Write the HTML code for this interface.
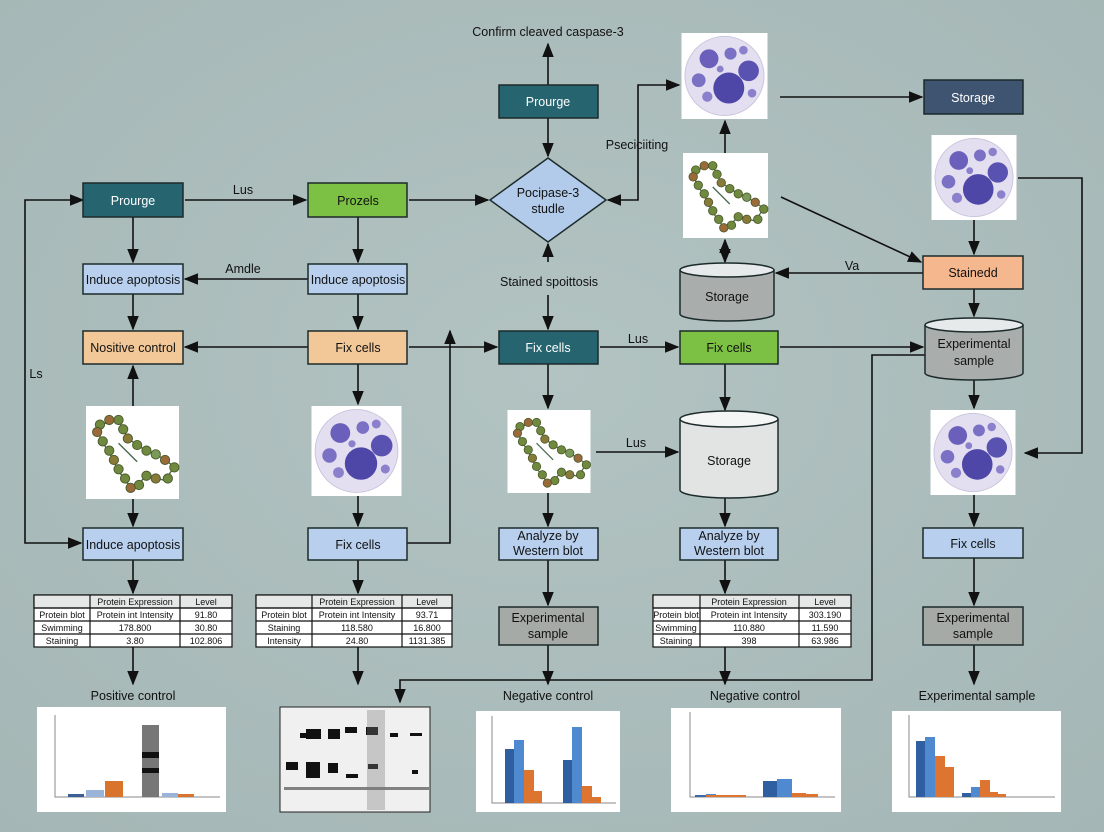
<!DOCTYPE html>
<html><head><meta charset="utf-8"><style>
html,body{margin:0;padding:0;width:1104px;height:832px;overflow:hidden;background:#aebfbe}
svg{display:block}
text{font-family:"Liberation Sans",sans-serif;font-size:12.5px;fill:#111}
.t{font-size:9px}
</style></head><body>
<svg width="1104" height="832" viewBox="0 0 1104 832">
<defs>
<marker id="a" viewBox="0 0 10 10" refX="9" refY="5" markerWidth="9" markerHeight="9" orient="auto-start-reverse"><path d="M0,1 L10,5 L0,9z" fill="#111"/></marker>
<radialGradient id="bg" cx="50%" cy="45%" r="75%"><stop offset="0" stop-color="#b2c3c2"/><stop offset="1" stop-color="#a4b6b5"/></radialGradient>
<symbol id="cell" viewBox="0 0 100 100">
<rect width="100" height="100" fill="#fff"/>
<circle cx="50" cy="50" r="46" fill="#e3dff0" stroke="#c7c2da"/>
<circle cx="55" cy="64" r="18" fill="#4f47a8"/>
<circle cx="32" cy="30" r="11" fill="#6a5fba"/>
<circle cx="78" cy="44" r="12" fill="#5a52b0"/>
<circle cx="57" cy="24" r="7" fill="#7a70c4"/>
<circle cx="20" cy="55" r="8" fill="#7a70c4"/>
<circle cx="30" cy="74" r="6" fill="#8a80cc"/>
<circle cx="72" cy="20" r="5" fill="#8a80cc"/>
<circle cx="82" cy="70" r="5" fill="#8a80cc"/>
<circle cx="45" cy="42" r="4" fill="#8a80cc"/>
</symbol>
<symbol id="prot" viewBox="0 0 100 100">
<rect width="100" height="100" fill="#fff"/>
<path d="M15,20 L35,15 L45,35 L60,45 L80,55 L95,65 L85,80 L65,75 L50,90 L35,70 L25,50 L15,35z M35,40 L55,60" fill="none" stroke="#4a6a50" stroke-width="1.5"/>
<g fill="#6f8a3e" stroke="#4b5a2a" stroke-width="1">
<circle cx="15" cy="20" r="5"/><circle cx="25" cy="15" r="5" fill="#9a6a3a"/><circle cx="35" cy="15" r="5"/><circle cx="40" cy="25" r="5"/><circle cx="45" cy="35" r="5" fill="#8a7a3a"/><circle cx="55" cy="42" r="5"/><circle cx="65" cy="48" r="5"/><circle cx="75" cy="52" r="5" fill="#7a9a5a"/><circle cx="85" cy="58" r="5" fill="#9a6a3a"/><circle cx="95" cy="66" r="5"/><circle cx="88" cy="78" r="5"/><circle cx="75" cy="78" r="5" fill="#8a7a3a"/><circle cx="65" cy="75" r="5"/><circle cx="57" cy="85" r="5"/><circle cx="48" cy="88" r="5" fill="#9a6a3a"/><circle cx="42" cy="78" r="5"/><circle cx="35" cy="68" r="5"/><circle cx="30" cy="58" r="5" fill="#8a7a3a"/><circle cx="25" cy="48" r="5"/><circle cx="18" cy="38" r="5"/><circle cx="12" cy="28" r="5" fill="#9a6a3a"/>
</g>
</symbol>
</defs>
<rect width="1104" height="832" fill="url(#bg)"/>

<g stroke="#111" stroke-width="1.6" fill="none" marker-end="url(#a)">
<path d="M133,217V262"/><path d="M133,294V329"/><path d="M133,406V366"/><path d="M133,499V526"/><path d="M133,560V593"/><path d="M133,647V684"/>
<path d="M83,200H25V543H81" marker-start="url(#a)"/>
<path d="M185,200H306"/>
<path d="M308,279H185"/><path d="M308,347H185"/>
<path d="M358,217V262"/><path d="M358,294V329"/><path d="M358,364V404"/><path d="M358,496V526"/><path d="M358,560V593"/><path d="M358,647V684"/>
<path d="M407,543H450V331"/>
<path d="M409,347H497"/>
<path d="M409,200H488"/>
<path d="M548,85V44"/><path d="M548,118V156"/>
<path d="M548,262V244"/><path d="M548,295V329"/>
<path d="M638,150V200H608"/><path d="M638,150V85H679"/>
<path d="M548,364V408"/><path d="M548,493V526"/><path d="M548,560V605"/><path d="M548,645V684"/>
<path d="M600,347H678"/>
<path d="M596,452H678"/>
<path d="M725,153V121"/><path d="M725,240V262" marker-start="url(#a)"/>
<path d="M780,97H922"/>
<path d="M781,197L921,262"/>
<path d="M923,273H776"/>
<path d="M780,347H923"/>
<path d="M725,364V410"/><path d="M725,497V526"/><path d="M725,560V593"/><path d="M725,647V684"/>
<path d="M974,220V254"/><path d="M974,289V316"/><path d="M974,380V408"/><path d="M974,495V526"/><path d="M974,558V605"/><path d="M974,645V684"/>
<path d="M1018,178H1082V453H1025"/>
<path d="M925,355H872V680H400V702"/>
</g>

<g stroke="#1c2a2a" stroke-width="1.5">
<rect x="499" y="85" width="99" height="33" fill="#266570"/>
<polygon points="548,158 606,200 548,242 490,200" fill="#b3cbea"/>
<rect x="83" y="183" width="100" height="34" fill="#266570"/>
<rect x="308" y="183" width="99" height="34" fill="#7cc144"/>
<rect x="83" y="264" width="100" height="30" fill="#b8d0ee"/>
<rect x="308" y="264" width="99" height="30" fill="#b8d0ee"/>
<rect x="83" y="331" width="100" height="33" fill="#f2c898"/>
<rect x="308" y="331" width="99" height="33" fill="#f2c898"/>
<rect x="499" y="331" width="99" height="33" fill="#266570"/>
<rect x="680" y="331" width="98" height="33" fill="#7cc144"/>
<rect x="83" y="528" width="100" height="32" fill="#b8d0ee"/>
<rect x="308" y="528" width="99" height="32" fill="#b8d0ee"/>
<rect x="499" y="528" width="99" height="32" fill="#b8d0ee"/>
<rect x="680" y="528" width="98" height="32" fill="#b8d0ee"/>
<rect x="923" y="528" width="100" height="30" fill="#b8d0ee"/>
<rect x="499" y="607" width="99" height="38" fill="#a6aaa7"/>
<rect x="923" y="607" width="100" height="38" fill="#a6aaa7"/>
<rect x="924" y="80" width="99" height="34" fill="#3e5470"/>
<rect x="923" y="256" width="100" height="33" fill="#f5b88e"/>
<path d="M680,270V314A47,7 0 0 0 774,314V270" fill="#a9adab"/><ellipse cx="727" cy="270" rx="47" ry="7" fill="#e7eaea"/>
<path d="M680,419V490A49,8 0 0 0 778,490V419" fill="#e2e4e4"/><ellipse cx="729" cy="419" rx="49" ry="8" fill="#f4f5f5"/>
<path d="M925,325V373A49,7 0 0 0 1023,373V325" fill="#a9adab"/><ellipse cx="974" cy="325" rx="49" ry="7" fill="#e7eaea"/>
</g>

<use href="#prot" x="83" y="406" width="99" height="93"/>
<use href="#cell" x="310" y="406" width="93" height="90"/>
<use href="#prot" x="502" y="410" width="94" height="83"/>
<use href="#cell" x="681" y="33" width="87" height="86"/>
<use href="#prot" x="681" y="153" width="89" height="85"/>
<use href="#cell" x="930" y="135" width="88" height="85"/>
<use href="#cell" x="923" y="410" width="100" height="85"/>

<g text-anchor="middle">
<text x="548" y="36">Confirm cleaved caspase-3</text>
<text x="548" y="106" style="fill:#fff">Prourge</text>
<text x="548" y="197">Pocipase-3</text><text x="548" y="213">studle</text>
<text x="133" y="205" style="fill:#fff">Prourge</text>
<text x="358" y="205">Prozels</text>
<text x="133" y="284">Induce apoptosis</text>
<text x="358" y="284">Induce apoptosis</text>
<text x="133" y="352">Nositive control</text>
<text x="358" y="352">Fix cells</text>
<text x="548" y="352" style="fill:#fff">Fix cells</text>
<text x="729" y="352">Fix cells</text>
<text x="133" y="549">Induce apoptosis</text>
<text x="358" y="549">Fix cells</text>
<text x="548" y="540">Analyze by</text><text x="548" y="555">Western blot</text>
<text x="729" y="540">Analyze by</text><text x="729" y="555">Western blot</text>
<text x="973" y="548">Fix cells</text>
<text x="548" y="622">Experimental</text><text x="548" y="638">sample</text>
<text x="973" y="622">Experimental</text><text x="973" y="638">sample</text>
<text x="973" y="102" style="fill:#fff">Storage</text>
<text x="973" y="277">Stainedd</text>
<text x="727" y="301">Storage</text>
<text x="729" y="465">Storage</text>
<text x="974" y="348">Experimental</text><text x="974" y="365">sample</text>
<text x="549" y="286">Stained spoittosis</text>
<text x="637" y="149">Pseciciiting</text>
<text x="243" y="194">Lus</text>
<text x="243" y="273">Amdle</text>
<text x="36" y="378">Ls</text>
<text x="638" y="343">Lus</text>
<text x="636" y="447">Lus</text>
<text x="852" y="270">Va</text>
<text x="133" y="700">Positive control</text>
<text x="548" y="700">Negative control</text>
<text x="755" y="700">Negative control</text>
<text x="977" y="700">Experimental sample</text>
</g>

<g stroke="#111" stroke-width="1.2" fill="#fff">
<rect x="34" y="595" width="198" height="52"/><rect x="34" y="595" width="198" height="13" fill="#e6e8e8"/>
<path d="M90,595V647M180,595V647M34,608H232M34,621H232M34,634H232"/>
<rect x="256" y="595" width="196" height="52"/><rect x="256" y="595" width="196" height="13" fill="#e6e8e8"/>
<path d="M312,595V647M402,595V647M256,608H452M256,621H452M256,634H452"/>
<rect x="653" y="595" width="198" height="52"/><rect x="653" y="595" width="198" height="13" fill="#e6e8e8"/>
<path d="M700,595V647M799,595V647M653,608H851M653,621H851M653,634H851"/>
</g>
<g text-anchor="middle">
<text class="t" x="135" y="605">Protein Expression</text><text class="t" x="206" y="605">Level</text>
<text class="t" x="62" y="618">Protein blot</text><text class="t" x="135" y="618">Protein int Intensity</text><text class="t" x="206" y="618">91.80</text>
<text class="t" x="62" y="631">Swimming</text><text class="t" x="135" y="631">178.800</text><text class="t" x="206" y="631">30.80</text>
<text class="t" x="62" y="644">Staining</text><text class="t" x="135" y="644">3.80</text><text class="t" x="206" y="644">102.806</text>
<text class="t" x="357" y="605">Protein Expression</text><text class="t" x="427" y="605">Level</text>
<text class="t" x="284" y="618">Protein blot</text><text class="t" x="357" y="618">Protein int Intensity</text><text class="t" x="427" y="618">93.71</text>
<text class="t" x="284" y="631">Staining</text><text class="t" x="357" y="631">118.580</text><text class="t" x="427" y="631">16.800</text>
<text class="t" x="284" y="644">Intensity</text><text class="t" x="357" y="644">24.80</text><text class="t" x="427" y="644">1131.385</text>
<text class="t" x="749" y="605">Protein Expression</text><text class="t" x="825" y="605">Level</text>
<text class="t" x="676" y="618">Protein blot</text><text class="t" x="749" y="618">Protein int Intensity</text><text class="t" x="825" y="618">303.190</text>
<text class="t" x="676" y="631">Swimming</text><text class="t" x="749" y="631">110.880</text><text class="t" x="825" y="631">11.590</text>
<text class="t" x="676" y="644">Staining</text><text class="t" x="749" y="644">398</text><text class="t" x="825" y="644">63.986</text>
</g>

<rect x="37" y="707" width="189" height="105" fill="#fff"/>
<path d="M55,715V797H220" stroke="#888" fill="none"/>
<rect x="68" y="794" width="16" height="3" fill="#3a5f95"/><rect x="86" y="790" width="18" height="7" fill="#9ab3d8"/><rect x="105" y="781" width="18" height="16" fill="#d8742c"/>
<rect x="142" y="725" width="17" height="72" fill="#777"/><rect x="142" y="752" width="17" height="6" fill="#111"/><rect x="142" y="768" width="17" height="5" fill="#111"/>
<rect x="162" y="793" width="16" height="4" fill="#9ab3d8"/><rect x="178" y="794" width="16" height="3" fill="#d8742c"/>

<rect x="280" y="707" width="150" height="105" fill="#f0f0f0" stroke="#222"/>
<g fill="#111">
<rect x="300" y="733" width="10" height="5"/><rect x="306" y="729" width="15" height="10"/><rect x="328" y="729" width="12" height="10"/><rect x="345" y="727" width="12" height="6"/><rect x="366" y="727" width="12" height="8"/><rect x="390" y="733" width="8" height="4"/><rect x="410" y="733" width="12" height="3"/>
<rect x="286" y="762" width="12" height="8"/><rect x="306" y="762" width="14" height="16"/><rect x="328" y="763" width="10" height="10"/><rect x="346" y="774" width="12" height="4"/><rect x="368" y="764" width="10" height="5"/><rect x="412" y="770" width="6" height="4"/>
<rect x="284" y="787" width="145" height="3" opacity=".5"/>
</g>
<rect x="367" y="710" width="18" height="100" fill="#777" opacity=".35"/>

<rect x="476" y="711" width="144" height="101" fill="#fff"/>
<path d="M492,716V803H616" stroke="#888" fill="none"/>
<rect x="505" y="749" width="10" height="54" fill="#2f5fa0"/><rect x="514" y="740" width="10" height="63" fill="#4f8ad0"/><rect x="524" y="770" width="10" height="33" fill="#dd7530"/><rect x="534" y="791" width="8" height="12" fill="#dd7530"/>
<rect x="563" y="760" width="10" height="43" fill="#2f5fa0"/><rect x="572" y="727" width="10" height="76" fill="#4f8ad0"/><rect x="582" y="786" width="10" height="17" fill="#dd7530"/><rect x="592" y="797" width="9" height="6" fill="#dd7530"/>

<rect x="671" y="708" width="170" height="104" fill="#fff"/>
<path d="M690,712V797H835" stroke="#888" fill="none"/>
<rect x="695" y="795" width="20" height="2" fill="#3a6aaa"/><rect x="706" y="794" width="10" height="3" fill="#4f8ad0"/>
<rect x="706" y="795" width="40" height="2" fill="#dd7530"/>
<rect x="763" y="781" width="14" height="16" fill="#2f5fa0"/><rect x="777" y="779" width="15" height="18" fill="#4f8ad0"/><rect x="792" y="793" width="14" height="4" fill="#dd7530"/><rect x="806" y="794" width="12" height="3" fill="#dd7530"/>

<rect x="892" y="711" width="169" height="101" fill="#fff"/>
<path d="M909,715V797H1055" stroke="#888" fill="none"/>
<rect x="916" y="741" width="9" height="56" fill="#2f5fa0"/><rect x="925" y="737" width="10" height="60" fill="#4f8ad0"/><rect x="935" y="756" width="10" height="41" fill="#dd7530"/><rect x="945" y="767" width="9" height="30" fill="#dd7530"/>
<rect x="962" y="793" width="9" height="4" fill="#2f5fa0"/><rect x="971" y="787" width="9" height="10" fill="#4f8ad0"/><rect x="980" y="780" width="10" height="17" fill="#dd7530"/><rect x="990" y="792" width="8" height="5" fill="#dd7530"/><rect x="998" y="794" width="8" height="3" fill="#dd7530"/>
</svg>
</body></html>
